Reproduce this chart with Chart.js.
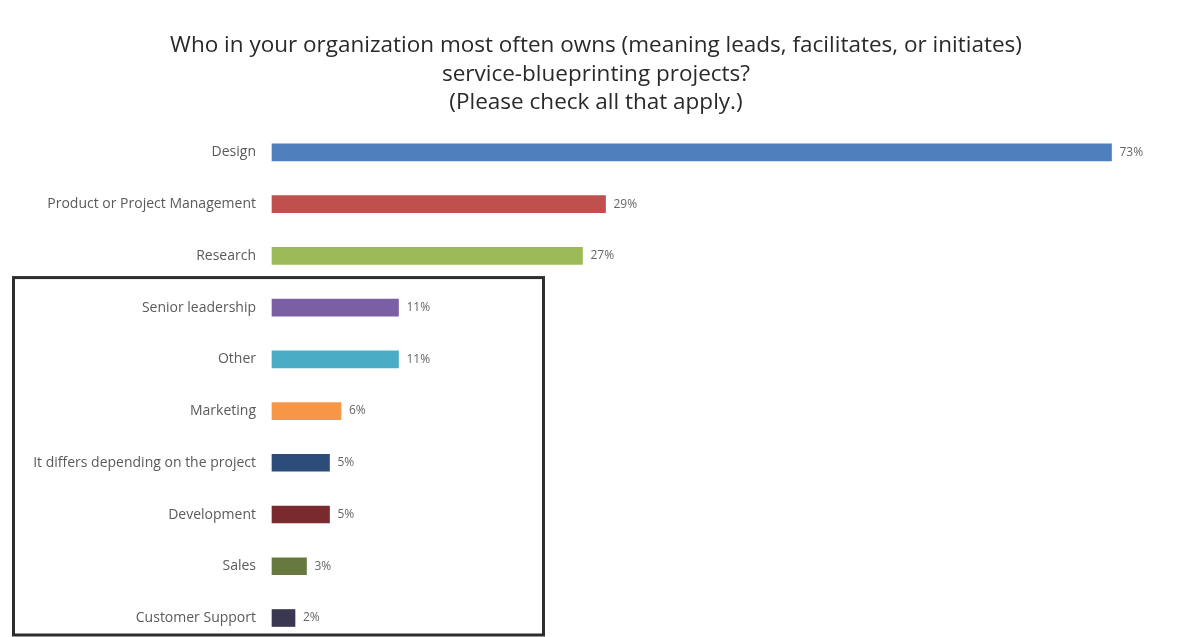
<!DOCTYPE html>
<html>
<head>
<meta charset="utf-8">
<script src="https://cdn.jsdelivr.net/npm/chart.js@4.4.1/dist/chart.umd.min.js"></script>
<style>
  html, body { margin: 0; padding: 0; background: #fff; }
  #wrap { width: 1192px; height: 637px; }
</style>
</head>
<body>
<div id="wrap"><canvas id="ownerChart"></canvas></div>
<script>
let roles = ['Design', 'Product or Project Management', 'Research', 'Senior leadership', 'Other',
    'Marketing', 'It differs depending on the project', 'Development', 'Sales', 'Customer Support'];
let shares = [73, 29, 27, 11, 11, 6, 5, 5, 3, 2];
let barColors = ['#4f7fbd', '#c0504d', '#9bbb59', '#7b5fa5', '#4bacc6',
    '#f79646', '#2c4d7a', '#7a2a2e', '#68793f', '#3a3850'];
let titleLines = [
    'Who in your organization most often owns (meaning leads, facilitates, or initiates)',
    'service-blueprinting projects?',
    '(Please check all that apply.)'
];

// percent text at the end of every bar
const valueLabels = {
    id: 'valueLabels',
    afterDatasetsDraw(chart) {
        const ctx = chart.ctx;
        const meta = chart.getDatasetMeta(0);
        ctx.save();
        ctx.font = '12px "Open Sans", sans-serif';
        ctx.fillStyle = '#666';
        ctx.textBaseline = 'middle';
        meta.data.forEach((bar, i) => {
            ctx.fillText(shares[i] + '%', bar.x + 8, bar.y);
        });
        ctx.restore();
    }
};

// frame around the lower group of answers
const groupFrame = {
    id: 'groupFrame',
    afterDraw(chart) {
        const y = chart.scales.y;
        const step = y.getPixelForTick(4) - y.getPixelForTick(3);
        const top = y.getPixelForTick(3) - step * 0.58;
        const bottom = y.getPixelForTick(roles.length - 1) + 17;
        const ctx = chart.ctx;
        ctx.save();
        ctx.strokeStyle = '#2e2e2e';
        ctx.lineWidth = 3;
        ctx.strokeRect(13.5, top, 530, bottom - top);
        ctx.restore();
    }
};

function createChart(ctx) {
    return new Chart(ctx, {
        type: 'bar',
        data: {
            labels: roles,
            datasets: [{
                data: shares,
                backgroundColor: barColors,
                barThickness: 17,
                clip: false
            }]
        },
        options: {
            indexAxis: 'y',
            responsive: true,
            maintainAspectRatio: false,
            animation: false,
            layout: { padding: { left: 0, right: 0, top: 0, bottom: 19 } },
            scales: {
                x: {
                    display: false,
                    min: 0,
                    max: 80
                },
                y: {
                    offset: false,
                    grid: { display: false },
                    border: { display: false },
                    ticks: {
                        padding: 8,
                        color: '#5a5a5a',
                        font: { family: '"Open Sans", sans-serif', size: 14 }
                    },
                    afterFit(scale) { scale.width = 272; }
                }
            },
            plugins: {
                legend: { display: false },
                tooltip: { enabled: false },
                title: {
                    display: true,
                    text: titleLines,
                    color: '#2a2a2a',
                    font: { family: '"Open Sans", sans-serif', size: 22.5, weight: 'normal', lineHeight: 1.25 },
                    padding: { top: 32, bottom: 36 }
                }
            }
        },
        plugins: [valueLabels, groupFrame]
    });
}

document.addEventListener('DOMContentLoaded', () => {
    const ctx = document.getElementById('ownerChart').getContext('2d');
    createChart(ctx);
});
</script>
</body>
</html>
